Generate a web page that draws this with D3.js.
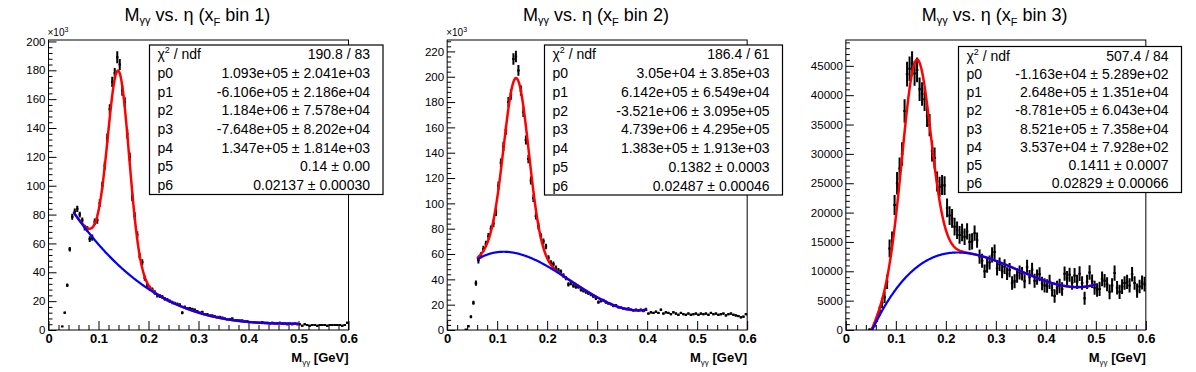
<!DOCTYPE html>
<html lang="en">
<head>
<meta charset="UTF-8">
<title>M_gg vs. eta fits</title>
<script src="https://d3js.org/d3.v7.min.js"></script>
<style>
  body { margin: 0; background: #fff; }
  svg { display: block; font-family: "Liberation Sans", Arial, Helvetica, sans-serif; }
</style>
</head>
<body>
<svg id="canvas" width="1196" height="372"></svg>
<script>
// 120 bins of 0.005 GeV between 0 and 0.6
const binWidth = 0.005;
const xDomain = [0, 0.6];
const xMajorTicks = [0, 0.1, 0.2, 0.3, 0.4, 0.5, 0.6];

// x_F bin 1 (entries / 10^3)
const counts1 = [
  0, 0, 0, 0, 0, 2.5, 12, 31, 56, 78.5,
  82, 84, 80, 76, 71, 70, 63, 64, 75, 76,
  88, 100, 114, 133, 153, 172, 178, 189, 184, 166,
  158, 136, 120, 92, 79, 66, 51, 47, 36, 31,
  29, 28, 26, 24, 23.5, 23, 21.5, 21, 20, 19,
  18.5, 18, 17.5, 12, 16, 15, 15, 14.5, 14, 13,
  12, 12.5, 11, 11, 10, 10, 9.5, 9, 9, 8.5,
  8, 7.5, 7.5, 8, 7, 7, 6.5, 6.5, 6, 6,
  5.5, 5.5, 5.5, 5, 5, 5.5, 5, 5, 4.5, 5,
  4.5, 4.5, 5, 4.5, 4.5, 4, 4.5, 4, 4.5, 4,
  4, 3, 4, 3.5, 3, 3.5, 3.5, 3, 3.5, 3.5,
  3.5, 3, 3.5, 3.5, 3.5, 3.5, 3.5, 3, 3.5, 5
];
const errors1 = [
  0, 0, 0, 0, 0, 0.4, 0.8, 1.2, 1.6, 2.0,
  2.2, 2.2, 2.0, 2.0, 2.0, 2.0, 2.0, 2.2, 2.2, 2.4,
  2.6, 2.8, 3.0, 3.2, 3.4, 3.6, 3.6, 4.2, 3.8, 3.6,
  3.4, 3.2, 3.0, 2.8, 2.6, 2.4, 2.2, 2.0, 1.8, 1.6,
  1.6, 1.5, 1.5, 1.4, 1.4, 1.3, 1.3, 1.2, 1.2, 1.2,
  1.1, 1.1, 1.1, 1.0, 1.0, 1.0, 1.0, 0.9, 0.9, 0.9,
  0.9, 0.9, 0.8, 0.8, 0.8, 0.8, 0.8, 0.8, 0.8, 0.8,
  0.7, 0.7, 0.7, 0.7, 0.7, 0.7, 0.7, 0.7, 0.7, 0.7,
  0.7, 0.7, 0.7, 0.7, 0.7, 0.7, 0.7, 0.7, 0.7, 0.7,
  0.7, 0.7, 0.7, 0.7, 0.7, 0.7, 0.7, 0.7, 0.7, 0.7,
  0.7, 0.7, 0.7, 0.7, 0.7, 0.7, 0.7, 0.7, 0.7, 0.7,
  0.7, 0.7, 0.7, 0.7, 0.7, 0.7, 0.7, 0.7, 0.7, 0.7
];

// x_F bin 2 (entries / 10^3)
const counts2 = [
  0, 0, 0, 0, 0, 0, 0, 0.4, 3, 10.5,
  21.5, 37, 55, 59, 64, 68, 74, 80, 84, 93,
  114, 132, 145, 158, 180, 186, 214, 216, 205, 189,
  172, 150, 135, 118, 104, 90, 82, 74, 70, 66,
  57, 53, 52, 49, 47, 46, 43, 41, 36, 37,
  35, 34, 34, 32, 31, 30, 29, 28, 26.5, 25,
  22, 23, 23.5, 22, 21, 20.5, 19, 19.5, 18, 17.5,
  17, 16.5, 17, 16, 15.5, 16, 15.5, 16, 15, 16.5,
  13, 14, 13.5, 14.5, 13.5, 16, 13, 14, 13.5, 12.5,
  14, 13, 12, 13.5, 12.5, 12, 13, 12, 12.5, 13,
  12, 13, 12.5, 13, 12, 13.5, 12.5, 13, 12, 12.5,
  13, 11.5, 12.5, 13, 12, 11.5, 11, 10, 10.5, 12.5
];
const errors2 = [
  0, 0, 0, 0, 0, 0, 0, 0.3, 0.8, 1.2,
  1.6, 2.0, 2.4, 2.4, 2.5, 2.5, 2.6, 2.6, 2.8, 3.0,
  3.2, 3.4, 3.6, 3.8, 4.0, 4.2, 4.6, 4.6, 4.2, 4.0,
  3.8, 3.6, 3.4, 3.2, 3.0, 2.8, 2.6, 2.4, 2.3, 2.2,
  2.1, 2.0, 2.0, 1.9, 1.9, 1.8, 1.8, 1.7, 1.7, 1.6,
  1.6, 1.5, 1.5, 1.5, 1.4, 1.4, 1.4, 1.3, 1.3, 1.3,
  1.2, 1.2, 1.2, 1.2, 1.1, 1.1, 1.1, 1.1, 1.0, 1.0,
  1.0, 1.0, 1.0, 1.0, 1.0, 1.0, 1.0, 1.0, 1.0, 1.0,
  0.9, 0.9, 0.9, 0.9, 0.9, 0.9, 0.9, 0.9, 0.9, 0.9,
  0.9, 0.9, 0.9, 0.9, 0.9, 0.9, 0.9, 0.9, 0.9, 0.9,
  0.9, 0.9, 0.9, 0.9, 0.9, 0.9, 0.9, 0.9, 0.9, 0.9,
  0.9, 0.9, 0.9, 0.9, 0.9, 0.9, 0.9, 0.9, 0.9, 0.9
];

// x_F bin 3 (entries)
const counts3 = [
  0, 0, 0, 0, 0, 0, 0, 0, 0, 100,
  200, 900, 2000, 3200, 4600, 5600, 8200, 13900, 15200, 21300,
  25000, 27500, 30000, 37300, 43600, 44500, 45400, 43700, 44300, 41000,
  40200, 39300, 36500, 34900, 30500, 29300, 25300, 24400, 24700, 24600,
  20800, 19500, 19000, 17600, 17000, 16200, 16600, 15900, 16800, 15000,
  15100, 16500, 15300, 12500, 11800, 10000, 11000, 11500, 12800, 13300,
  10500, 11200, 10000, 10800, 9600, 10200, 8000, 8300, 9300, 9800,
  9600, 8300, 10700, 9000, 10300, 8400, 9000, 9500, 7900, 7600,
  7500, 8200, 6800, 5800, 7200, 7500, 7000, 9600, 8800, 9400,
  8000, 9300, 8200, 9600, 8000, 5400, 8200, 9800, 8300, 7200,
  6800, 7000, 8700, 8400, 7800, 6500, 7600, 9700, 7200, 6500,
  7400, 8000, 8200, 7600, 9500, 8000, 6700, 7400, 8100, 7800
];
const errors3 = [
  0, 0, 0, 0, 0, 0, 0, 0, 0, 150,
  250, 450, 650, 800, 900, 1000, 1200, 1500, 1600, 1700,
  1900, 1900, 2000, 2000, 2100, 2100, 2100, 2100, 2100, 2000,
  2000, 2000, 1900, 1900, 1800, 1800, 1700, 1700, 1700, 1600,
  1600, 1600, 1600, 1500, 1500, 1500, 1500, 1400, 1400, 1400,
  1400, 1300, 1300, 1200, 1200, 1150, 1250, 1200, 1300, 1250,
  1200, 1150, 1200, 1250, 1100, 1200, 1150, 1200, 1250, 1200,
  1150, 1200, 1250, 1200, 1150, 1200, 1300, 1200, 1150, 1200,
  1150, 1200, 1100, 1150, 1200, 1250, 1150, 1200, 1250, 1200,
  1150, 1250, 1200, 1250, 1150, 1100, 1200, 1250, 1150, 1200,
  1150, 1200, 1250, 1150, 1200, 1250, 1200, 1300, 1150, 1200,
  1250, 1150, 1200, 1200, 1250, 1150, 1200, 1150, 1200, 1250
];

// fit results: pol3 (p0..p3) + gaus (p4 amplitude, p5 mean, p6 sigma)
const fitPars1 = [1.093e5, -6.106e5, 1.184e6, -7.648e5, 1.347e5, 0.14, 0.02137];
const fitPars2 = [3.05e4, 6.142e5, -3.521e6, 4.739e6, 1.383e5, 0.1382, 0.02487];
const fitPars3 = [-1.163e4, 2.648e5, -8.781e5, 8.521e5, 3.537e4, 0.1411, 0.02829];
const fitRange1 = [0.05, 0.5];
const fitRange2 = [0.06, 0.4];
const fitRange3 = [0.05, 0.5];

// stat box texts
const parNames = ["p0", "p1", "p2", "p3", "p4", "p5", "p6"];
const chi2Texts = ["190.8 / 83", "186.4 / 61", "507.4 / 84"];
const parTexts1 = ["1.093e+05 \u00b1 2.041e+03", "-6.106e+05 \u00b1 2.186e+04", "1.184e+06 \u00b1 7.578e+04",
  "-7.648e+05 \u00b1 8.202e+04", "1.347e+05 \u00b1 1.814e+03", "0.14 \u00b1 0.00", "0.02137 \u00b1 0.00030"];
const parTexts2 = ["3.05e+04 \u00b1 3.85e+03", "6.142e+05 \u00b1 6.549e+04", "-3.521e+06 \u00b1 3.095e+05",
  "4.739e+06 \u00b1 4.295e+05", "1.383e+05 \u00b1 1.913e+03", "0.1382 \u00b1 0.0003", "0.02487 \u00b1 0.00046"];
const parTexts3 = ["-1.163e+04 \u00b1 5.289e+02", "2.648e+05 \u00b1 1.351e+04", "-8.781e+05 \u00b1 6.043e+04",
  "8.521e+05 \u00b1 7.358e+04", "3.537e+04 \u00b1 7.928e+02", "0.1411 \u00b1 0.0007", "0.02829 \u00b1 0.00066"];

// y axis settings per panel
const yMaxes = [201, 229, 49400];
const yMajorSteps = [20, 20, 5000];
const yMinorSteps = [4, 4, 1000];
const yUnits = [1e3, 1e3, 1];

// ---- layout ----
const W = 1196, H = 372;
const padW = W / 3;
const frame = { left: 48.5, right: 348.5, top: 40, bottom: 330 };
const boxes = [ // absolute stat box corners
  { x0: 149.5, x1: 383, y0: 45, y1: 194.5 },
  { x0: 544.5, x1: 782.5, y0: 45, y1: 195 },
  { x0: 958.5, x1: 1181.5, y0: 46.5, y1: 192.5 }
];

const panels = [
  { counts: counts1, errors: errors1, pars: fitPars1, range: fitRange1, parTexts: parTexts1 },
  { counts: counts2, errors: errors2, pars: fitPars2, range: fitRange2, parTexts: parTexts2 },
  { counts: counts3, errors: errors3, pars: fitPars3, range: fitRange3, parTexts: parTexts3 }
];

function background(p, x) { return p[0] + p[1] * x + p[2] * x * x + p[3] * x * x * x; }
function total(p, x) { return background(p, x) + p[4] * Math.exp(-0.5 * Math.pow((x - p[5]) / p[6], 2)); }

const svg = d3.select("#canvas");
svg.append("rect").attr("width", W).attr("height", H).attr("fill", "#fff");

panels.forEach((panel, k) => {
  const off = k * padW;
  const g = svg.append("g").attr("transform", `translate(${off},0)`);

  const x = d3.scaleLinear().domain(xDomain).range([frame.left, frame.right]);
  const y = d3.scaleLinear().domain([0, yMaxes[k]]).range([frame.bottom, frame.top]);

  // title
  const title = g.append("text")
    .attr("x", padW / 2 - 2).attr("y", 21)
    .attr("text-anchor", "middle")
    .attr("font-size", 18);
  title.append("tspan").text("M");
  title.append("tspan").attr("font-size", 11).attr("dy", 3).text("\u03b3\u03b3");
  title.append("tspan").attr("dy", -3).text(" vs. \u03b7 (x");
  title.append("tspan").attr("font-size", 11).attr("dy", 5).text("F");
  title.append("tspan").attr("dy", -5).text(" bin " + (k + 1) + ")");

  // clip to frame
  const clipId = "clip" + k;
  g.append("clipPath").attr("id", clipId)
    .append("rect")
    .attr("x", frame.left).attr("y", frame.top)
    .attr("width", frame.right - frame.left).attr("height", frame.bottom - frame.top);

  // axes
  const yMajor = d3.range(0, yMaxes[k] + 1e-9, yMajorSteps[k]);
  const yMinor = d3.range(0, yMaxes[k] + 1e-9, yMinorSteps[k]).filter(v => Math.abs(v / yMajorSteps[k] - Math.round(v / yMajorSteps[k])) > 1e-6);
  const xMinor = d3.range(0, 0.6001, 0.02).filter(v => Math.abs(v * 10 - Math.round(v * 10)) > 1e-6);

  g.append("g").attr("transform", `translate(${frame.left},0)`)
    .call(d3.axisLeft(y).tickValues(yMinor).tickFormat("").tickSizeInner(-4).tickSizeOuter(0))
    .call(a => a.select(".domain").remove());
  g.append("g").attr("transform", `translate(${frame.left},0)`)
    .call(d3.axisLeft(y).tickValues(yMajor).tickFormat(d3.format("d")).tickSizeInner(-8).tickSizeOuter(0).tickPadding(3))
    .call(a => a.select(".domain").remove())
    .call(a => a.selectAll("text").attr("font-size", 11.5).attr("fill", "#000").attr("font-family", "Liberation Sans, Arial, sans-serif"));

  g.append("g").attr("transform", `translate(0,${frame.bottom})`)
    .call(d3.axisBottom(x).tickValues(xMinor).tickFormat("").tickSizeInner(-5).tickSizeOuter(0))
    .call(a => a.select(".domain").remove());
  g.append("g").attr("transform", `translate(0,${frame.bottom})`)
    .call(d3.axisBottom(x).tickValues(xMajorTicks).tickFormat(d => d === 0 ? "0" : d3.format(".1f")(d)).tickSizeInner(-9).tickSizeOuter(0).tickPadding(4))
    .call(a => a.select(".domain").remove())
    .call(a => a.selectAll("text").attr("font-size", 13).attr("font-weight", "bold").attr("fill", "#000").attr("font-family", "Liberation Sans, Arial, sans-serif"));
  g.selectAll(".tick line").attr("stroke", "#000");

  // x axis title
  const xt = g.append("text").attr("x", frame.right).attr("y", 362)
    .attr("text-anchor", "end").attr("font-size", 13).attr("font-weight", "bold");
  xt.append("tspan").text("M");
  xt.append("tspan").attr("font-size", 8).attr("font-weight", "normal").attr("dy", 3).text("\u03b3\u03b3");
  xt.append("tspan").attr("dy", -3).text(" [GeV]");

  // x10^3 multiplier
  if (yUnits[k] !== 1) {
    const m = g.append("text").attr("x", frame.left - 1).attr("y", 36).attr("font-size", 10);
    m.append("tspan").text("\u00d710");
    m.append("tspan").attr("font-size", 7).attr("dy", -4).text("3");
  }

  // data points with error bars
  const bins = panel.counts.map((v, i) => ({ lo: i * binWidth, hi: (i + 1) * binWidth, v: v, e: panel.errors[i] }))
    .filter(b => b.v > 0);
  const dataG = g.append("g").attr("clip-path", `url(#${clipId})`)
    .attr("stroke", "#000").attr("stroke-width", 2);
  dataG.selectAll("line.h").data(bins).join("line").attr("class", "h")
    .attr("x1", b => x(b.lo)).attr("x2", b => x(b.hi))
    .attr("y1", b => y(b.v)).attr("y2", b => y(b.v));
  dataG.selectAll("line.v").data(bins).join("line").attr("class", "v")
    .attr("x1", b => x((b.lo + b.hi) / 2)).attr("x2", b => x((b.lo + b.hi) / 2))
    .attr("y1", b => y(b.v - b.e)).attr("y2", b => y(b.v + b.e));

  // fit curves
  const xs = d3.range(panel.range[0], panel.range[1] + 1e-9, 0.001);
  const line = d3.line().x(d => x(d[0])).y(d => y(d[1]));
  const curveG = g.append("g").attr("clip-path", `url(#${clipId})`).attr("fill", "none");
  curveG.append("path")
    .attr("d", line(xs.map(t => [t, total(panel.pars, t) / yUnits[k]])))
    .attr("stroke", "#ff0000").attr("stroke-width", 2.5);
  curveG.append("path")
    .attr("d", line(xs.map(t => [t, background(panel.pars, t) / yUnits[k]])))
    .attr("stroke", "#0000ff").attr("stroke-width", 2.2);

  // frame
  g.append("rect")
    .attr("x", frame.left).attr("y", frame.top)
    .attr("width", frame.right - frame.left).attr("height", frame.bottom - frame.top)
    .attr("fill", "none").attr("stroke", "#000").attr("stroke-width", 1);

  // stat box
  const b = boxes[k];
  const sb = svg.append("g");
  sb.append("rect").attr("x", b.x0).attr("y", b.y0).attr("width", b.x1 - b.x0).attr("height", b.y1 - b.y0)
    .attr("fill", "#fff").attr("stroke", "#000").attr("stroke-width", 1.2);
  const rowH = (b.y1 - b.y0) / 8;
  const rows = [["chi2", chi2Texts[k]]].concat(parNames.map((n, i) => [n, panel.parTexts[i]]));
  rows.forEach((r, i) => {
    const by = b.y0 + rowH * (i + 0.5) + 5;
    const lab = sb.append("text").attr("x", b.x0 + 8).attr("y", by).attr("font-size", 14);
    if (r[0] === "chi2") {
      lab.append("tspan").text("\u03c7");
      lab.append("tspan").attr("font-size", 9).attr("dy", -6).text("2");
      lab.append("tspan").attr("dy", 6).text(" / ndf");
    } else {
      lab.text(r[0]);
    }
    sb.append("text").attr("x", b.x1 - 13).attr("y", by).attr("text-anchor", "end").attr("font-size", 14).text(r[1]);
  });
});
</script>
</body>
</html>
